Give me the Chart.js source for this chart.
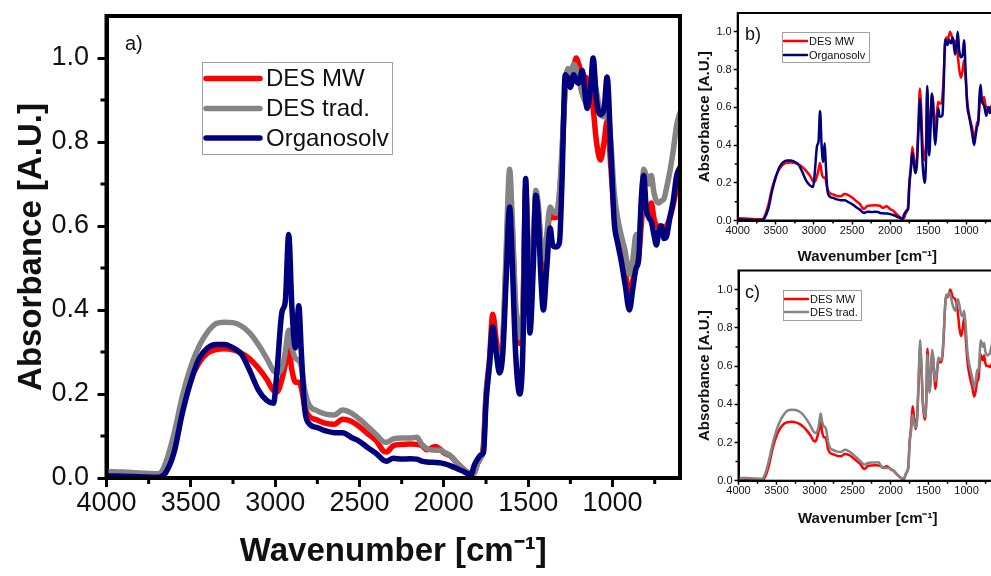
<!DOCTYPE html>
<html>
<head>
<meta charset="utf-8">
<script src="https://cdn.jsdelivr.net/npm/chart.js@4.4.0/dist/chart.umd.min.js"></script>
<style>
  body { margin: 0; width: 991px; height: 576px; overflow: hidden; background: #fff; position: relative; }
  canvas { position: absolute; }
</style>
</head>
<body>
<canvas id="panel-a" width="700" height="576" style="left:0;top:0"></canvas>
<canvas id="panel-b" width="320" height="270" style="left:690px;top:0"></canvas>
<canvas id="panel-c" width="320" height="314" style="left:690px;top:262px"></canvas>
<script>
// FTIR spectra of the lignin samples, absorbance normalised to the strongest band

const wavenumbers = [
  4000, 3900, 3800, 3700, 3680, 3650, 3600, 3550, 3500, 3450,
  3400, 3350, 3300, 3250, 3200, 3150, 3100, 3050, 3010, 2990,
  2960, 2940, 2920, 2900, 2880, 2860, 2845, 2825, 2800, 2750,
  2700, 2650, 2600, 2550, 2500, 2450, 2400, 2360, 2340, 2300,
  2250, 2200, 2160, 2130, 2100, 2050, 2020, 2000, 1960, 1920,
  1880, 1840, 1820, 1800, 1780, 1765, 1750, 1730, 1710, 1690,
  1670, 1650, 1630, 1610, 1595, 1575, 1550, 1530, 1515, 1500,
  1490, 1470, 1455, 1440, 1425, 1410, 1390, 1370, 1355, 1335,
  1315, 1300, 1280, 1265, 1250, 1230, 1215, 1200, 1180, 1150,
  1130, 1115, 1095, 1072, 1050, 1032, 1010, 990, 970, 950,
  925, 900, 880, 860, 845, 830, 815, 800, 785, 770,
  755, 740, 725, 710, 695, 680, 660, 640, 620, 600
];

const desMW = [
  0.012, 0.010, 0.008, 0.006, 0.006, 0.020, 0.080, 0.170, 0.235, 0.275,
  0.298, 0.306, 0.308, 0.305, 0.297, 0.283, 0.262, 0.235, 0.208, 0.205,
  0.235, 0.270, 0.305, 0.255, 0.228, 0.228, 0.215, 0.170, 0.148, 0.138,
  0.130, 0.128, 0.140, 0.135, 0.122, 0.105, 0.088, 0.065, 0.062, 0.077,
  0.080, 0.081, 0.080, 0.077, 0.067, 0.075, 0.068, 0.060, 0.052, 0.035,
  0.020, 0.010, 0.012, 0.035, 0.050, 0.080, 0.200, 0.280, 0.390, 0.330,
  0.270, 0.330, 0.520, 0.700, 0.600, 0.400, 0.320, 0.420, 0.690, 0.540,
  0.470, 0.550, 0.670, 0.640, 0.550, 0.480, 0.560, 0.630, 0.620, 0.620,
  0.660, 0.760, 0.930, 0.970, 0.960, 0.980, 1.000, 0.985, 0.960, 0.950,
  0.920, 0.880, 0.800, 0.757, 0.800, 0.850, 0.740, 0.630, 0.570, 0.530,
  0.490, 0.440, 0.470, 0.520, 0.530, 0.600, 0.660, 0.640, 0.630, 0.655,
  0.620, 0.600, 0.600, 0.600, 0.595, 0.600, 0.620, 0.650, 0.690, 0.710
];

const desTrad = [
  0.015, 0.014, 0.012, 0.010, 0.012, 0.035, 0.105, 0.195, 0.265, 0.315,
  0.348, 0.368, 0.371, 0.370, 0.362, 0.345, 0.318, 0.285, 0.255, 0.250,
  0.262, 0.300, 0.352, 0.310, 0.285, 0.280, 0.265, 0.210, 0.175, 0.160,
  0.152, 0.150, 0.162, 0.155, 0.140, 0.122, 0.103, 0.087, 0.085, 0.093,
  0.095, 0.095, 0.097, 0.080, 0.070, 0.066, 0.066, 0.062, 0.053, 0.035,
  0.020, 0.010, 0.012, 0.035, 0.050, 0.070, 0.190, 0.260, 0.345, 0.300,
  0.280, 0.330, 0.550, 0.735, 0.620, 0.420, 0.335, 0.420, 0.660, 0.550,
  0.460, 0.550, 0.685, 0.650, 0.560, 0.520, 0.580, 0.645, 0.635, 0.630,
  0.680, 0.780, 0.930, 0.975, 0.965, 0.985, 0.975, 0.950, 0.915, 0.890,
  0.930, 0.950, 0.920, 0.870, 0.860, 0.890, 0.800, 0.680, 0.620, 0.580,
  0.540, 0.485, 0.520, 0.580, 0.570, 0.640, 0.735, 0.720, 0.700, 0.720,
  0.680, 0.660, 0.655, 0.660, 0.665, 0.690, 0.730, 0.780, 0.840, 0.870
];

const organosolv = [
  0.005, 0.004, 0.003, 0.002, 0.003, 0.012, 0.060, 0.155, 0.230, 0.285,
  0.310, 0.318, 0.318, 0.310, 0.295, 0.255, 0.210, 0.185, 0.178, 0.250,
  0.395, 0.420, 0.580, 0.400, 0.310, 0.410, 0.300, 0.165, 0.130, 0.120,
  0.112, 0.108, 0.108, 0.097, 0.087, 0.072, 0.058, 0.043, 0.040, 0.047,
  0.045, 0.046, 0.045, 0.040, 0.038, 0.037, 0.036, 0.034, 0.029, 0.022,
  0.015, 0.007, 0.030, 0.045, 0.055, 0.060, 0.180, 0.270, 0.360, 0.300,
  0.250, 0.300, 0.480, 0.645, 0.520, 0.300, 0.200, 0.330, 0.713, 0.480,
  0.345, 0.500, 0.673, 0.620, 0.480, 0.400, 0.500, 0.595, 0.555, 0.550,
  0.560, 0.700, 0.960, 0.950, 0.930, 0.960, 0.945, 0.940, 0.970, 0.880,
  0.930, 1.000, 0.900, 0.865, 0.880, 0.955, 0.780, 0.610, 0.560, 0.520,
  0.460, 0.400, 0.450, 0.500, 0.520, 0.660, 0.720, 0.640, 0.620, 0.610,
  0.580, 0.555, 0.590, 0.600, 0.570, 0.575, 0.620, 0.660, 0.720, 0.740
];

const xTickValues = [4000, 3500, 3000, 2500, 2000, 1500, 1000];
const xMinorValues = [3750, 3250, 2750, 2250, 1750, 1250, 750];
const yTickValues = [0, 0.2, 0.4, 0.6, 0.8, 1.0];
const yMinorValues = [0.1, 0.3, 0.5, 0.7, 0.9];

const FONT = '"Liberation Sans", Arial, sans-serif';
const RED = '#ff0000';
const GREY = '#848484';
const NAVY = '#00007f';

const SERIES = {
  mw:   { label: 'DES MW', values: desMW, color: RED },
  trad: { label: 'DES trad.', values: desTrad, color: GREY },
  org:  { label: 'Organosolv', values: organosolv, color: NAVY }
};

// frame, minor ticks, inset legend and panel letter
const panelDecor = {
  id: 'panelDecor',
  afterDatasetsDraw(chart, args, o) {
    const { ctx, chartArea: a, scales } = chart;
    ctx.save();
    ctx.strokeStyle = '#000';
    ctx.lineJoin = 'miter';
    ctx.lineWidth = o.frame;
    ctx.strokeRect(a.left, a.top, a.right - a.left, a.bottom - a.top);

    // minor ticks, outside the frame
    ctx.lineWidth = o.tickWidth;
    ctx.beginPath();
    xMinorValues.forEach(v => {
      const px = scales.x.getPixelForValue(v);
      if (px < a.left || px > a.right) return;
      ctx.moveTo(px, a.bottom);
      ctx.lineTo(px, a.bottom + o.frame / 2 + o.minorLen);
    });
    yMinorValues.forEach(v => {
      const py = scales.y.getPixelForValue(v);
      ctx.moveTo(a.left, py);
      ctx.lineTo(a.left - o.frame / 2 - o.minorLen, py);
    });
    ctx.stroke();

    // legend box
    const lg = o.legend;
    ctx.fillStyle = '#fff';
    ctx.fillRect(lg.x, lg.y, lg.w, lg.h);
    ctx.lineWidth = 1;
    ctx.strokeStyle = '#a0a0a0';
    ctx.strokeRect(lg.x + 0.5, lg.y + 0.5, lg.w, lg.h);
    ctx.font = lg.fontSize + 'px ' + FONT;
    ctx.textBaseline = 'middle';
    ctx.textAlign = 'left';
    chart.data.datasets
      .slice()
      .sort((p, q) => p.legendIndex - q.legendIndex)
      .forEach((ds, i) => {
        const y = lg.rowY[i];
        ctx.strokeStyle = ds.borderColor;
        ctx.lineWidth = lg.lineWidth;
        ctx.lineCap = 'round';
        ctx.beginPath();
        ctx.moveTo(lg.lineX0, y);
        ctx.lineTo(lg.lineX1, y);
        ctx.stroke();
        ctx.fillStyle = '#111';
        ctx.fillText(ds.label, lg.textX, y + 1);
      });

    ctx.font = o.letter.size + 'px ' + FONT;
    ctx.fillStyle = '#111';
    ctx.textBaseline = 'alphabetic';
    ctx.fillText(o.letter.text, o.letter.x, o.letter.y);
    ctx.restore();
  }
};

function buildPanel(canvasId, cfg) {
  const datasets = cfg.series.map((key, i) => {
    const s = SERIES[key];
    return {
      label: s.label,
      data: wavenumbers.map((w, k) => ({ x: w, y: s.values[k] })),
      borderColor: s.color,
      borderWidth: cfg.lineWidth,
      pointRadius: 0,
      cubicInterpolationMode: 'monotone',
      borderJoinStyle: 'round',
      borderCapStyle: 'round',
      order: cfg.series.length - i,
      legendIndex: i
    };
  });

  const tickGrid = {
    drawOnChartArea: false,
    drawTicks: true,
    tickLength: cfg.tickLen,
    tickWidth: cfg.tickWidth,
    color: '#000',
    tickColor: '#000'
  };

  return new Chart(document.getElementById(canvasId), {
    type: 'line',
    data: { datasets },
    options: {
      responsive: false,
      animation: false,
      events: [],
      layout: { padding: cfg.padding },
      plugins: {
        legend: { display: false },
        tooltip: { enabled: false },
        panelDecor: {
          frame: cfg.frame,
          tickWidth: cfg.tickWidth,
          minorLen: cfg.minorLen,
          legend: cfg.legend,
          letter: cfg.letter
        }
      },
      scales: {
        x: {
          type: 'linear',
          reverse: true,
          min: 600,
          max: 4000,
          afterBuildTicks: s => { s.ticks = xTickValues.map(v => ({ value: v })); },
          afterFit: s => {
            s.height = cfg.xAxisHeight;
            s.paddingLeft = 0;
            s.paddingRight = 0;
          },
          ticks: {
            maxRotation: 0,
            autoSkip: false,
            padding: cfg.xTickPad,
            color: '#111',
            font: { family: FONT, size: cfg.tickSize },
            callback: v => String(v)
          },
          grid: tickGrid,
          border: { display: true, color: '#000', width: cfg.frame },
          title: {
            display: true,
            text: 'Wavenumber [cm\u207B\u00B9]',
            color: '#111',
            font: { family: FONT, size: cfg.titleSize, weight: 'bold', lineHeight: 1.2 },
            padding: { top: 0, bottom: cfg.xTitlePad }
          }
        },
        y: {
          type: 'linear',
          min: 0,
          max: 1.1,
          afterBuildTicks: s => { s.ticks = yTickValues.map(v => ({ value: v })); },
          afterFit: s => {
            s.width = cfg.yAxisWidth;
            s.paddingTop = 0;
            s.paddingBottom = 0;
          },
          ticks: {
            autoSkip: false,
            padding: cfg.yTickPad,
            color: '#111',
            font: { family: FONT, size: cfg.tickSize },
            callback: v => v.toFixed(1)
          },
          grid: tickGrid,
          border: { display: true, color: '#000', width: cfg.frame },
          title: {
            display: true,
            text: 'Absorbance [A.U.]',
            color: '#111',
            font: { family: FONT, size: cfg.titleSize, weight: 'bold', lineHeight: 1.2 },
            padding: { top: cfg.yTitlePad, bottom: 0 }
          }
        }
      }
    },
    plugins: [panelDecor]
  });
}

// a) all three samples
buildPanel('panel-a', {
  series: ['mw', 'trad', 'org'],
  lineWidth: 5.5,
  padding: { top: 16, right: 20, bottom: 0, left: 0 },
  xAxisHeight: 98,
  yAxisWidth: 106.5,
  frame: 4,
  tickLen: 9,
  minorLen: 4,
  tickWidth: 3,
  tickSize: 27,
  titleSize: 33,
  xTickPad: 0,
  yTickPad: 8.5,
  xTitlePad: 4,
  yTitlePad: 12,
  legend: {
    x: 202, y: 62, w: 190, h: 92,
    rowY: [78.5, 108.5, 138],
    lineX0: 206, lineX1: 260, textX: 266,
    fontSize: 24, lineWidth: 5.5
  },
  letter: { text: 'a)', x: 125, y: 50, size: 20 }
});

// b) microwave DES against organosolv
buildPanel('panel-b', {
  series: ['mw', 'org'],
  lineWidth: 2.5,
  padding: { top: 13, right: 13, bottom: 0, left: 0 },
  xAxisHeight: 49.5,
  yAxisWidth: 47.7,
  frame: 2,
  tickLen: 4,
  minorLen: 2,
  tickWidth: 1.5,
  tickSize: 11,
  titleSize: 15,
  xTickPad: 0,
  yTickPad: 2,
  xTitlePad: 4,
  yTitlePad: 6,
  legend: {
    x: 92, y: 32, w: 87, h: 30,
    rowY: [41, 55],
    lineX0: 94, lineX1: 117, textX: 119,
    fontSize: 11, lineWidth: 2.5
  },
  letter: { text: 'b)', x: 55, y: 40, size: 18 }
});

// c) microwave DES against conventional DES
buildPanel('panel-c', {
  series: ['mw', 'trad'],
  lineWidth: 2.5,
  padding: { top: 8.5, right: 13, bottom: 44, left: 0 },
  xAxisHeight: 51.3,
  yAxisWidth: 48.5,
  frame: 2,
  tickLen: 4,
  minorLen: 2,
  tickWidth: 1.5,
  tickSize: 11,
  titleSize: 15,
  xTickPad: 0,
  yTickPad: 2,
  xTitlePad: 4,
  yTitlePad: 6,
  legend: {
    x: 93, y: 28, w: 78, h: 30,
    rowY: [37, 50],
    lineX0: 95, lineX1: 118, textX: 120,
    fontSize: 11, lineWidth: 2.5
  },
  letter: { text: 'c)', x: 55, y: 36, size: 18 }
});
</script>
</body>
</html>
